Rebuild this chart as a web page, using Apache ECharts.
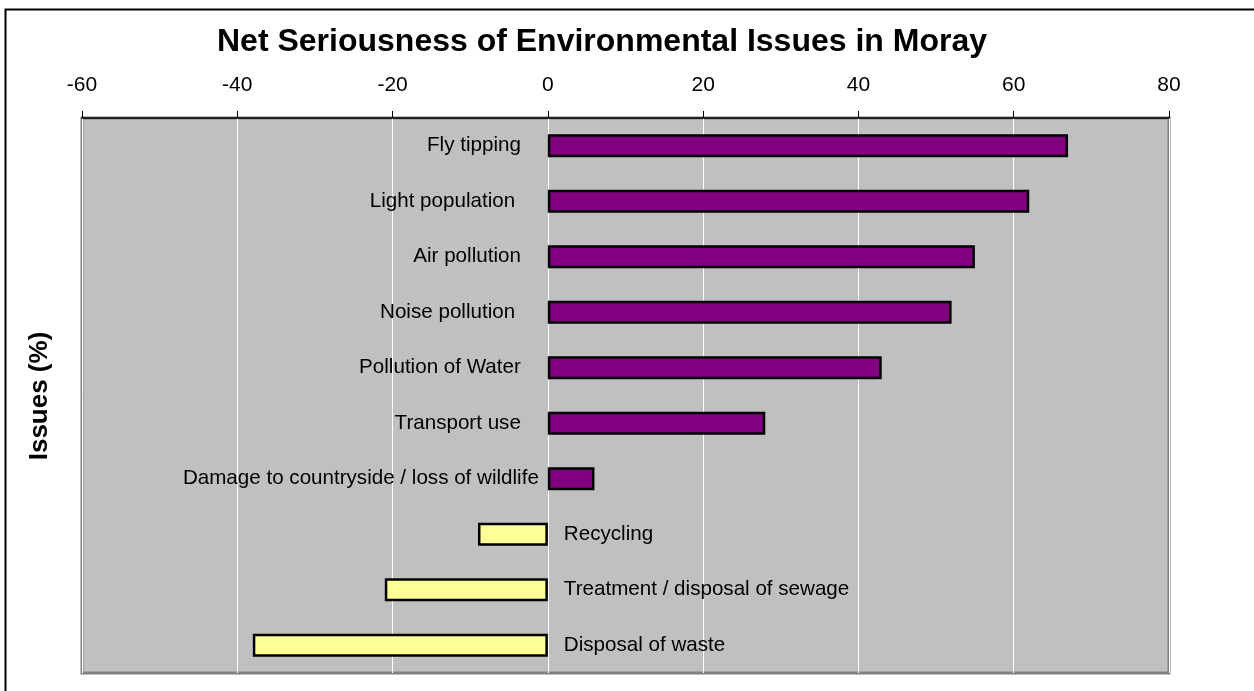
<!DOCTYPE html>
<html>
<head>
<meta charset="utf-8">
<script src="https://cdn.jsdelivr.net/npm/echarts@6/dist/echarts.min.js"></script>
<style>
html,body{margin:0;padding:0;background:#fff;}
#chart{width:1254px;height:691px;}
</style>
</head>
<body>
<div id="chart"></div>
<script>
var categories = ["Fly tipping", "Light population ", "Air pollution", "Noise pollution ", "Pollution of Water", "Transport use", "Damage to countryside / loss of wildlife", "Recycling", "Treatment / disposal of sewage", "Disposal of waste"];
var values = [67, 62, 55, 52, 43, 28, 6, -9, -21, -38];
var xTicks = {min: -60, max: 80, interval: 20};
var titleText = "Net Seriousness of Environmental Issues in Moray";
var yAxisTitle = "Issues (%)";

var FONT = "'Liberation Sans', Arial, sans-serif";

var data = values.map(function (v, i) {
  var pos = v >= 0;
  return {
    value: v,
    itemStyle: {color: pos ? '#800080' : '#FFFF99'},
    label: {
      show: true,
      position: pos ? 'left' : 'right',
      distance: pos ? (i === 6 ? 9 : 27) : 16,
      formatter: '{b}',
      fontFamily: FONT,
      fontSize: 20.6,
      color: '#000'
    }
  };
});

var chart = echarts.init(document.getElementById('chart'), null, {renderer: 'canvas'});
chart.setOption({
  animation: false,
  backgroundColor: '#fff',
  title: {
    text: titleText,
    left: 597,
    textAlign: 'center',
    top: 21,
    textStyle: {fontFamily: FONT, fontSize: 32, fontWeight: 'bold', color: '#000'}
  },
  graphic: [
    {type: 'rect', shape: {x: 5.5, y: 9.5, width: 1300, height: 800}, style: {fill: 'none', stroke: '#000', lineWidth: 2}, z: 100, silent: true},
    {type: 'text', x: 40, y: 396, rotation: Math.PI / 2,
      style: {text: yAxisTitle, fontFamily: FONT, fontSize: 26, fontWeight: 'bold', fill: '#000', textAlign: 'center', textVerticalAlign: 'middle'}}
  ],
  grid: {left: 82, right: 85, top: 118, bottom: 18, show: true, backgroundColor: '#C0C0C0', borderColor: '#808080', borderWidth: 3},
  xAxis: {
    type: 'value',
    position: 'top',
    min: xTicks.min, max: xTicks.max, interval: xTicks.interval,
    axisLine: {show: true, onZero: false, lineStyle: {color: '#000', width: 1.5}},
    axisTick: {show: true, length: 7, lineStyle: {color: '#000'}},
    axisLabel: {fontFamily: FONT, fontSize: 21, color: '#000', margin: 22},
    splitLine: {show: true, lineStyle: {color: '#fff', width: 1}}
  },
  yAxis: {
    type: 'category',
    data: categories,
    inverse: true,
    axisLine: {show: false},
    axisTick: {show: false},
    axisLabel: {show: false},
    splitLine: {show: false}
  },
  series: [{
    type: 'bar',
    data: data,
    barWidth: 23,
    itemStyle: {borderColor: '#000', borderWidth: 2.5}
  }]
});
</script>
</body>
</html>
